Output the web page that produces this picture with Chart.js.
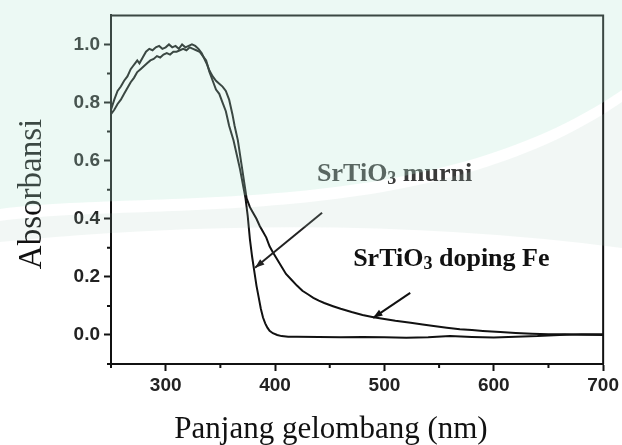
<!DOCTYPE html>
<html>
<head>
  <title>Absorbansi SrTiO3</title>
  <script src="https://cdn.jsdelivr.net/npm/chart.js"></script>
  <style>
    body { margin: 0; background: #fff; }
    canvas { display: block; }
  </style>
</head>
<body>
  <canvas id="uvChart" width="622" height="445"></canvas>
  <script>
    // wavelength (nm) / absorbance
    const murniX = [250, 253, 256, 259, 262, 265, 268, 271, 274, 277, 280, 283, 286, 289, 292, 295, 298, 301, 304, 307,
      310, 313, 316, 319, 322, 325, 328, 331, 334, 337, 340, 343, 346, 349, 352, 355, 358, 362, 365, 368,
      371, 373, 375, 377, 379, 381, 383, 385, 387, 389, 391, 393, 395, 398, 402, 406, 412, 420, 440, 460,
      480, 500, 520, 540, 560, 580, 600, 620, 640, 660, 680, 700];
    const murniY = [0.76, 0.775, 0.795, 0.81, 0.83, 0.85, 0.87, 0.885, 0.905, 0.915, 0.925, 0.935, 0.945, 0.95, 0.96, 0.955, 0.965, 0.97, 0.965, 0.975,
      0.975, 0.98, 0.985, 0.98, 0.99, 0.985, 0.98, 0.975, 0.96, 0.945, 0.905, 0.875, 0.845, 0.83, 0.80, 0.77, 0.72, 0.67, 0.62, 0.57,
      0.51, 0.47, 0.41, 0.33, 0.27, 0.22, 0.17, 0.13, 0.09, 0.06, 0.04, 0.025, 0.014, 0.006, 0.0, -0.004, -0.006, -0.006, -0.007, -0.008,
      -0.007, -0.008, -0.01, -0.008, -0.004, -0.007, -0.009, -0.006, -0.004, 0.0, 0.002, 0.002];

    const feX = [250, 253, 256, 259, 262, 265, 268, 270, 272, 274, 276, 279, 282, 285, 288, 291, 294, 297, 300, 303,
      306, 309, 312, 315, 318, 321, 324, 327, 330, 333, 336, 338, 340, 343, 346, 349, 352, 355, 358, 361,
      363, 366, 368, 370, 372, 374, 377, 380, 383, 386, 389, 392, 395, 398, 402, 406, 410, 415, 420, 425,
      430, 435, 440, 445, 453, 460, 470, 480, 490, 500, 510, 524, 535, 545, 557, 569, 580, 590, 606, 620,
      635, 650, 665, 680, 700];
    const feY = [0.775, 0.81, 0.84, 0.855, 0.875, 0.89, 0.915, 0.925, 0.935, 0.945, 0.935, 0.955, 0.975, 0.985, 0.98, 0.99, 0.995, 0.985, 0.99, 1.0,
      0.99, 0.995, 0.985, 1.0, 0.99, 0.995, 1.0, 0.995, 0.985, 0.97, 0.945, 0.93, 0.91, 0.89, 0.875, 0.865, 0.855, 0.84, 0.81, 0.76,
      0.72, 0.67, 0.62, 0.57, 0.52, 0.47, 0.44, 0.42, 0.40, 0.375, 0.355, 0.335, 0.305, 0.285, 0.26, 0.235, 0.21, 0.19, 0.17, 0.152,
      0.14, 0.128, 0.118, 0.11, 0.099, 0.09, 0.079, 0.069, 0.061, 0.055, 0.049, 0.042, 0.036, 0.031, 0.025, 0.02, 0.017, 0.014, 0.01, 0.007,
      0.004, 0.002, 0.002, 0.001, 0.0];

    const xTicks = [300, 400, 500, 600, 700];
    const xMinor = [250, 350, 450, 550, 650];
    const yTicks = [0, 0.2, 0.4, 0.6, 0.8, 1.0];
    const yMinor = [-0.1, 0.1, 0.3, 0.5, 0.7, 0.9];

    const xTitle = 'Panjang gelombang (nm)';
    const yTitle = 'Absorbansi';
    const labelMurni = ['SrTiO', '3', ' murni'];
    const labelFe = ['SrTiO', '3', ' doping Fe'];

    function chemText(ctx, parts, x, y, size) {
      const big = 'bold ' + size + 'px "Liberation Serif"';
      const small = 'bold ' + Math.round(size * 0.7) + 'px "Liberation Serif"';
      ctx.font = big;
      ctx.fillText(parts[0], x, y);
      let w = ctx.measureText(parts[0]).width;
      ctx.font = small;
      ctx.fillText(parts[1], x + w, y + 3);
      w += ctx.measureText(parts[1]).width;
      ctx.font = big;
      ctx.fillText(parts[2], x + w, y);
    }

    function arrow(ctx, x1, y1, x2, y2, color) {
      const ang = Math.atan2(y2 - y1, x2 - x1);
      ctx.strokeStyle = color;
      ctx.fillStyle = color;
      ctx.lineWidth = 2;
      ctx.beginPath();
      ctx.moveTo(x1, y1);
      ctx.lineTo(x2, y2);
      ctx.stroke();
      ctx.beginPath();
      ctx.moveTo(x2, y2);
      ctx.lineTo(x2 - 10 * Math.cos(ang - 0.35), y2 - 10 * Math.sin(ang - 0.35));
      ctx.lineTo(x2 - 10 * Math.cos(ang + 0.35), y2 - 10 * Math.sin(ang + 0.35));
      ctx.closePath();
      ctx.fill();
    }

    const extras = {
      id: 'extras',
      afterDraw(chart) {
        const ctx = chart.ctx;
        const a = chart.chartArea;
        const px = v => chart.scales.x.getPixelForValue(v);
        const py = v => chart.scales.y.getPixelForValue(v);
        ctx.save();

        // top + right frame
        ctx.strokeStyle = '#111';
        ctx.lineWidth = 2;
        ctx.beginPath();
        ctx.moveTo(a.left, a.top);
        ctx.lineTo(a.right, a.top);
        ctx.lineTo(a.right, a.bottom);
        ctx.stroke();

        // minor ticks
        ctx.beginPath();
        xMinor.forEach(v => { ctx.moveTo(px(v), a.bottom); ctx.lineTo(px(v), a.bottom + 4); });
        yMinor.forEach(v => { ctx.moveTo(a.left, py(v)); ctx.lineTo(a.left - 4, py(v)); });
        ctx.stroke();

        // axis titles
        ctx.fillStyle = '#111';
        ctx.font = '31px "Liberation Serif"';
        ctx.textAlign = 'center';
        ctx.textBaseline = 'alphabetic';
        ctx.fillText(xTitle, 331, 438);
        ctx.save();
        ctx.translate(41, 194);
        ctx.rotate(-Math.PI / 2);
        ctx.font = '33px "Liberation Serif"';
        ctx.fillText(yTitle, 0, 0);
        ctx.restore();

        // labels + arrows
        ctx.textAlign = 'left';
        ctx.fillStyle = '#3a3a3a';
        chemText(ctx, labelMurni, px(438.4), py(0.531), 26);
        ctx.fillStyle = '#111';
        chemText(ctx, labelFe, px(471.4), py(0.238), 26);
        arrow(ctx, px(443), py(0.421), px(381.7), py(0.231), '#222');
        arrow(ctx, px(523.6), py(0.145), px(489.7), py(0.059), '#111');

        // library watermark tint over the upper part
        ctx.fillStyle = 'rgba(181,231,212,0.26)';
        ctx.beginPath();
        ctx.moveTo(0, 0);
        ctx.lineTo(622, 0);
        ctx.lineTo(622, 90);
        ctx.bezierCurveTo(430, 222, 150, 189, 0, 209);
        ctx.closePath();
        ctx.fill();
        ctx.fillStyle = 'rgba(170,200,190,0.15)';
        ctx.beginPath();
        ctx.moveTo(0, 221);
        ctx.bezierCurveTo(150, 201, 430, 234, 622, 102);
        ctx.lineTo(622, 248);
        ctx.quadraticCurveTo(330, 210, 0, 242);
        ctx.closePath();
        ctx.fill();

        ctx.restore();
      }
    };

    const tickFont = { family: '"Liberation Sans", Arial', size: 19, weight: 'bold' };

    new Chart(document.getElementById('uvChart'), {
      type: 'line',
      data: {
        datasets: [{
          label: 'SrTiO3 murni',
          data: murniX.map((x, i) => ({ x: x, y: murniY[i] })),
          borderColor: '#111',
          borderWidth: 2,
          pointRadius: 0,
          tension: 0
        }, {
          label: 'SrTiO3 doping Fe',
          data: feX.map((x, i) => ({ x: x, y: feY[i] })),
          borderColor: '#111',
          borderWidth: 2,
          pointRadius: 0,
          tension: 0
        }]
      },
      options: {
        responsive: false,
        animation: false,
        layout: { padding: { left: 0, right: 18, top: 14, bottom: 0 } },
        plugins: { legend: { display: false }, tooltip: { enabled: false } },
        scales: {
          x: {
            type: 'linear',
            min: 250,
            max: 700,
            afterBuildTicks: s => { s.ticks = xTicks.map(v => ({ value: v })); },
            afterFit: s => { s.height = 81; },
            grid: { drawOnChartArea: false, tickLength: 7, tickWidth: 2, tickColor: '#111' },
            border: { color: '#111', width: 2 },
            ticks: { font: tickFont, color: '#222', padding: 3, maxRotation: 0, callback: v => String(v) }
          },
          y: {
            min: -0.1,
            max: 1.1,
            afterBuildTicks: s => { s.ticks = yTicks.map(v => ({ value: v })); },
            afterFit: s => { s.width = 111; },
            grid: { drawOnChartArea: false, tickLength: 7, tickWidth: 2, tickColor: '#111' },
            border: { color: '#111', width: 2 },
            ticks: { font: tickFont, color: '#222', padding: 4, callback: v => v.toFixed(1) }
          }
        }
      },
      plugins: [extras]
    });
  </script>
</body>
</html>
